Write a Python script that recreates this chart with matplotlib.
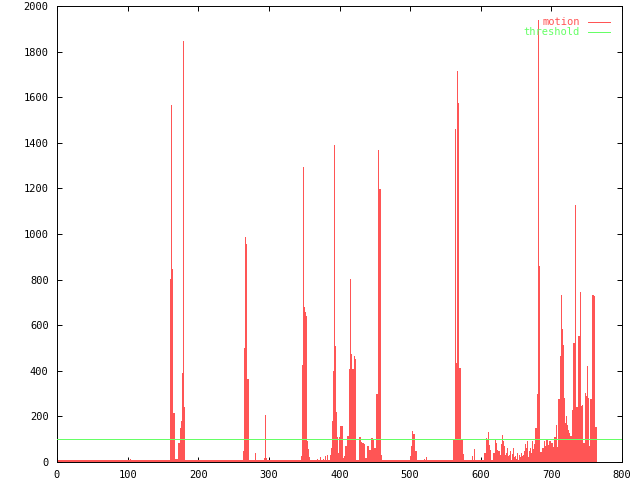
import numpy as np
import matplotlib
matplotlib.use("Agg")
import matplotlib.pyplot as plt

# motion value per frame
n_frames = 764
quiet = 8          # flat floor between events
threshold = 100

# bursts: (first frame, values for consecutive frames)
b103 = [12]
b139 = [10]
b160 = [804, 1567, 848, 848, 216, 216, 54, 15, 15, 15, 15, 62, 84, 84, 150, 182, 182, 391, 1845, 241, 241]
b264 = [50, 500, 988, 955, 925, 365, 365]
b280 = [40]
b289 = [10, 8, 8, 8, 18, 18, 207, 18]
b346 = [25, 427, 1295, 682, 680, 660, 640, 640, 90, 58, 58, 20]
b368 = [14, 8, 8, 8, 20, 8, 8, 8, 15, 8, 8, 25, 8, 8, 8, 30, 8, 8, 20, 30, 60]
b389 = [30, 180, 400, 1390, 510, 250, 220, 110, 100, 40, 110]
b401 = [156, 156, 156, 67, 19, 19, 28, 68, 68, 68, 112, 112, 247, 409, 804, 475, 409, 409, 409,
        463, 453, 453, 7, 7, 7, 7, 89, 111, 111, 89, 85, 85, 85, 80, 19, 19, 19, 19, 68, 68, 25,
        54, 54, 71, 106, 106, 95, 84, 62, 62, 130, 300, 300, 186, 1370, 1197, 1197, 457, 32]
b472 = [10]
b479 = [10, 10, 10]
b500 = [25, 68, 68, 134, 123, 123, 86, 47, 47, 17]
b520 = [14, 10, 10, 20]
b557 = [10, 10, 10, 98, 98, 98, 755, 1462, 435, 435, 1715, 1575, 413, 413, 365, 98, 98, 54, 36]
b587 = [28, 10, 10, 54, 58]
b605 = [40, 40, 106, 98, 98, 130, 76, 54, 54, 8, 8, 10, 20, 40, 40, 102, 84, 84, 54, 50, 50, 50]
b627 = [30, 80, 60, 120, 90, 40, 70, 30, 20, 40, 60, 25, 15, 30, 50, 20, 10, 35, 60, 40,
        20, 10, 25, 15, 40, 20, 10, 30, 20, 15, 40, 25, 15, 30, 50, 35, 80, 60, 90, 40,
        20, 50, 30, 60, 40, 20, 90, 55, 30, 80, 150, 150, 300, 300, 1940, 860, 100]
b684 = [42, 42, 42, 62, 62, 90, 72, 72, 51, 98, 98, 76, 83, 90, 90, 83, 83, 83, 18, 67,
        110, 110, 163, 67, 67, 112, 277, 277, 463, 734, 584, 584, 514, 282, 282, 171, 200,
        163, 163, 142, 128, 128, 84, 112, 112, 229, 500, 522, 522, 463, 1128, 243, 243, 229,
        553, 553, 747, 247, 247, 251, 10, 84, 84, 303, 291, 291, 423, 280, 280, 68, 101,
        277, 277, 675, 734, 734, 726, 155, 155, 155]

bursts = [(103, b103), (139, b139), (160, b160), (264, b264), (280, b280), (289, b289),
          (346, b346), (368, b368), (389, b389), (401, b401), (472, b472), (479, b479),
          (500, b500), (520, b520), (557, b557), (587, b587), (605, b605), (627, b627),
          (684, b684)]

frames = np.arange(n_frames)
motion = np.full(n_frames, quiet, dtype=float)
for start, vals in bursts:
    motion[start:start + len(vals)] = vals

red = '#ff5555'
green = '#66ff66'
font = 'DejaVu Sans Mono'

fig = plt.figure(figsize=(6.4, 4.8), dpi=100)
ax = fig.add_axes([57/640, 18/480, 565/640, 456/480])

ax.vlines(frames, 0, motion, colors=red, linewidth=0.6, antialiased=False, zorder=2)
ax.axhline(threshold, color=green, linewidth=0.5, antialiased=False, zorder=3)

ax.set_xlim(0, 800)
ax.set_ylim(0, 2000)
ax.set_xticks(np.arange(0, 801, 100))
ax.set_yticks(np.arange(0, 2001, 200))
ax.tick_params(direction='in', length=3.6, width=0.7, top=True, right=True,
               labelsize=7.5, pad=6)
for lab in ax.get_xticklabels() + ax.get_yticklabels():
    lab.set_family(font)
for s in ax.spines.values():
    s.set_linewidth(0.7)

# gnuplot-style key, top right
ax.text(0.9257, 0.9656, 'motion', color=red, ha='right', va='center',
        family=font, fontsize=7.5, transform=ax.transAxes)
ax.plot([0.9398, 0.9788], [0.9656, 0.9656], color=red, lw=0.5, antialiased=False,
        transform=ax.transAxes)
ax.text(0.9257, 0.9423, 'threshold', color=green, ha='right', va='center',
        family=font, fontsize=7.5, transform=ax.transAxes)
ax.plot([0.9398, 0.9788], [0.9423, 0.9423], color=green, lw=0.5, antialiased=False,
        transform=ax.transAxes)

fig.savefig('out.png', dpi=100)
